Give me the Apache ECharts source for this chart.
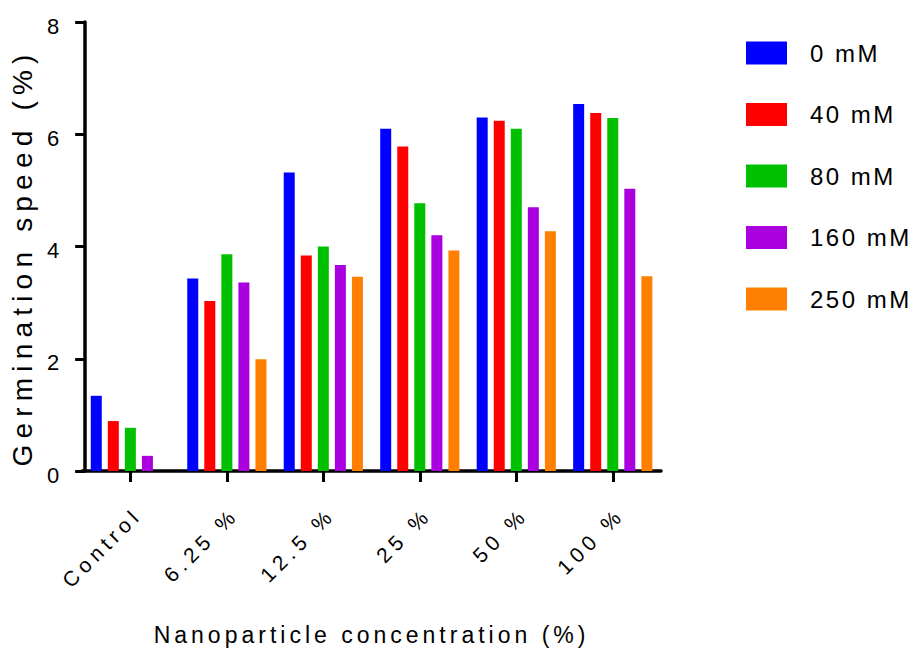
<!DOCTYPE html>
<html>
<head>
<meta charset="utf-8">
<script src="https://cdn.jsdelivr.net/npm/echarts@6/dist/echarts.min.js"></script>
<style>
  html, body { margin: 0; padding: 0; background: #fff; }
  #chart { width: 915px; height: 651px; }
</style>
</head>
<body>
<div id="chart"></div>
<script>
// ---- data ----
const categories = ["Control", "6.25 %", "12.5 %", "25 %", "50 %", "100 %"];
const seriesNames = ["0 mM", "40 mM", "80 mM", "160 mM", "250 mM"];
const s0mM   = [1.34, 3.43, 5.32, 6.10, 6.30, 6.54];
const s40mM  = [0.89, 3.03, 3.84, 5.78, 6.24, 6.38];
const s80mM  = [0.77, 3.86, 4.00, 4.77, 6.10, 6.29];
const s160mM = [0.27, 3.36, 3.67, 4.20, 4.70, 5.03];
const s250mM = [0,    1.99, 3.46, 3.93, 4.27, 3.47];
const yTicks = [0, 2, 4, 6, 8];
const yTitle = "Germination speed (%)";
const xTitle = "Nanoparticle concentration (%)";

const seriesValues = [s0mM, s40mM, s80mM, s160mM, s250mM];
const colors = ["#0000FF", "#FF0000", "#00C000", "#AA00E0", "#FF8000"];
const FONT = "'Liberation Sans', Arial, sans-serif";

const chart = echarts.init(document.getElementById('chart'), null, { renderer: 'svg' });

const option = {
  animation: false,
  color: colors,
  textStyle: { fontFamily: FONT, color: '#000' },
  grid: { left: 80, top: 22, width: 581, height: 449, containLabel: false },
  legend: {
    orient: 'vertical',
    left: 746, top: 41,
    padding: 0,
    itemWidth: 41, itemHeight: 23, itemGap: 37.5,
    icon: 'rect',
    textStyle: { fontFamily: FONT, fontSize: 24, color: '#000', padding: [0, 0, 0, 18] },
    data: seriesNames
  },
  xAxis: {
    type: 'category',
    data: categories,
    name: xTitle,
    nameLocation: 'middle',
    nameGap: 152,
    nameTextStyle: { fontFamily: FONT, fontSize: 23, color: '#000' },
    axisLine: { lineStyle: { color: '#000', width: 3.5 } },
    axisTick: { show: true, alignWithLabel: true, length: 11, lineStyle: { color: '#000', width: 3 } },
    axisLabel: { rotate: 45, margin: 40, fontFamily: FONT, fontSize: 21, color: '#000', interval: 0 }
  },
  yAxis: {
    type: 'value',
    min: yTicks[0], max: yTicks[yTicks.length - 1], interval: 2,
    offset: -3,
    name: yTitle,
    nameLocation: 'middle',
    nameRotate: 90,
    nameGap: 44,
    nameTextStyle: { fontFamily: FONT, fontSize: 28, color: '#000' },
    splitLine: { show: false },
    axisLine: { show: true, lineStyle: { color: '#000', width: 3.5 } },
    axisTick: { show: true, length: 10, lineStyle: { color: '#000', width: 3 } },
    axisLabel: { margin: 26, fontFamily: FONT, fontSize: 22, color: '#000' }
  },
  series: seriesNames.map((n, i) => ({
    name: n,
    type: 'bar',
    data: seriesValues[i],
    barWidth: 11,
    barGap: '55%',
    itemStyle: { color: colors[i] }
  }))
};

chart.setOption(option);

function applySpacing() {
  const spacing = {};
  const shift = {};
  spacing[yTitle] = 6.2; shift[yTitle] = [-11, 0];
  spacing[xTitle] = 4;
  categories.forEach(c => { spacing[c] = 5; shift[c] = [5.5, 5.5]; });
  seriesNames.forEach(s => spacing[s] = 2.5);
  yTicks.forEach(v => { shift[String(v)] = [0, 4]; });
  document.querySelectorAll('#chart svg text').forEach(t => {
    const s = spacing[t.textContent];
    if (s) t.style.letterSpacing = s + 'px';
    const d = shift[t.textContent];
    if (d) { t.setAttribute('dx', d[0]); t.setAttribute('dy', d[1]); }
  });
}
applySpacing();
chart.on('finished', applySpacing);
</script>
</body>
</html>
